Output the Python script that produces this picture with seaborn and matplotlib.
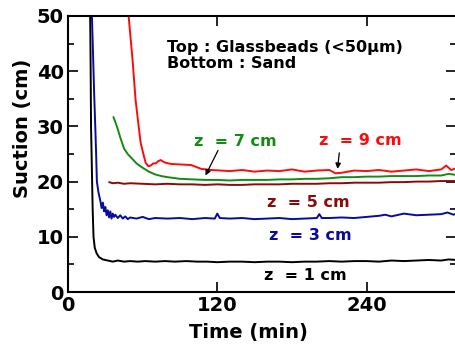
import matplotlib
matplotlib.use("Agg")
import matplotlib.pyplot as plt
import seaborn as sns
import numpy as np
import pandas as pd

# ---- data ----
t_z1 = [17.8, 18.2, 18.5, 19.2, 19.8, 20.5, 21.5, 23, 25, 28, 32, 36, 40, 45, 50, 56, 62, 70, 78, 86, 95, 104, 112, 120,
        130, 140, 150, 160, 170, 180, 190, 200, 210, 220, 230, 240, 250, 260, 270, 280, 290, 300, 306, 312]
s_z1 = [50, 40, 30, 22, 15, 10, 8, 7, 6.3, 5.9, 5.7, 5.5, 5.7, 5.5, 5.6, 5.5, 5.6, 5.5, 5.6, 5.5, 5.6, 5.5, 5.5, 5.4,
        5.5, 5.5, 5.4, 5.5, 5.5, 5.4, 5.5, 5.5, 5.6, 5.5, 5.6, 5.6, 5.5, 5.7, 5.6, 5.7, 5.8, 5.7, 5.9, 5.8]

t_z3 = [19.2, 20, 21, 21.9, 22.6, 23.2, 24.5, 26, 27, 28, 29, 30, 31, 32, 33, 34, 35, 36, 37, 38, 40, 42, 44, 46, 48,
        50, 55, 60, 65, 70, 80, 90, 100, 110, 118, 120, 122, 130, 140, 150, 160, 170, 180, 190, 200, 202, 204, 210, 220,
        230, 240, 250, 255, 260, 270, 280, 290, 300, 305, 310, 312]
s_z3 = [50, 44, 36, 30, 25, 20, 18, 16.5, 15.2, 16.2, 14.6, 15.4, 13.9, 14.8, 13.5, 14.6, 13.3, 14.2, 13.6, 14.0, 13.4,
        13.9, 13.3, 13.7, 13.2, 13.5, 13.3, 13.6, 13.2, 13.4, 13.3, 13.4, 13.2, 13.4, 13.3, 14.2, 13.4, 13.3, 13.4,
        13.2, 13.3, 13.4, 13.2, 13.3, 13.4, 14.1, 13.4, 13.4, 13.5, 13.4, 13.6, 13.8, 14.0, 13.7, 14.2, 13.9, 14.0,
        14.1, 14.4, 14.0, 14.2]

t_z5 = [33, 36, 40, 45, 50, 60, 70, 80, 90, 100, 110, 120, 130, 140, 150, 160, 170, 180, 190, 200, 210, 220, 230, 240,
        250, 260, 270, 280, 290, 300, 306, 312]
s_z5 = [19.9, 19.7, 19.8, 19.6, 19.7, 19.6, 19.5, 19.6, 19.5, 19.5, 19.4, 19.5, 19.4, 19.4, 19.5, 19.5, 19.5, 19.6,
        19.6, 19.6, 19.7, 19.7, 19.8, 19.8, 19.8, 19.9, 19.9, 20.0, 20.0, 20.1, 20.1, 20.1]

t_z7 = [36.5, 38, 40, 42, 45, 48, 50, 53, 55, 58, 60, 65, 70, 75, 80, 90, 100, 110, 120, 130, 140, 150, 160, 170, 180,
        190, 200, 210, 220, 230, 240, 250, 260, 270, 280, 290, 300, 306, 312]
s_z7 = [31.7, 30.8, 29.5, 28.0, 26.0, 25.0, 24.5, 23.8, 23.3, 22.8, 22.5, 21.8, 21.3, 21.0, 20.8, 20.5, 20.4, 20.3,
        20.3, 20.2, 20.3, 20.3, 20.3, 20.4, 20.4, 20.5, 20.5, 20.6, 20.8, 20.8, 20.9, 20.9, 21.0, 21.0, 21.0, 21.1,
        21.1, 21.4, 21.2]

t_z9 = [48.7, 51.9, 54.3, 56.8, 58.4, 60.8, 62.4, 64.5, 66.5, 68.5, 70.6, 72.5, 74.6, 76.5, 78.7, 82.7, 90, 99, 107,
        115, 123, 130, 140, 150, 160, 170, 180, 190, 200, 210, 215, 220, 230, 240, 250, 260, 270, 280, 290, 300, 304,
        308, 312]
s_z9 = [50, 42, 34.8, 30, 27, 24.8, 23.4, 22.8, 22.9, 23.3, 23.3, 23.7, 23.9, 23.6, 23.4, 23.2, 23.1, 23.0, 22.3,
        22.1, 22.0, 21.9, 22.1, 21.8, 22.0, 21.9, 22.2, 21.8, 22.0, 22.1, 21.5, 21.6, 22.0, 21.9, 22.1, 21.8, 22.0,
        22.2, 21.9, 22.2, 22.9, 22.1, 22.4]

series_labels = ["z  = 1 cm", "z  = 3 cm", "z  = 5 cm", "z  = 7 cm", "z  = 9 cm"]
series_colors = ["#000000", "#0a0a9e", "#8b0a0a", "#128c12", "#ff0a0a"]
x_ticks = [0, 120, 240]
y_ticks = [0, 10, 20, 30, 40, 50]

sns.set_style("ticks")
plt.rcParams['font.family'] = ['DejaVu Sans']
plt.rcParams['font.weight'] = 'bold'
plt.rcParams['text.color'] = 'black'
plt.rcParams['axes.labelcolor'] = 'black'
plt.rcParams['xtick.color'] = 'black'
plt.rcParams['ytick.color'] = 'black'

fig = plt.figure(figsize=(4.55, 3.47), dpi=100)
ax = fig.add_axes([0.1495, 0.1585, 0.853, 0.7955])

all_t = [t_z1, t_z3, t_z5, t_z7, t_z9]
all_s = [s_z1, s_z3, s_z5, s_z7, s_z9]
for t, s, c in zip(all_t, all_s, series_colors):
    sns.lineplot(x=t, y=s, color=c, lw=1.4, sort=False, estimator=None, ax=ax)

ax.set_xlim(0, 312)
ax.set_ylim(0, 50)
ax.set_xticks(x_ticks)
ax.set_yticks(y_ticks)
ax.set_yticks([5, 15, 25, 35, 45], minor=True)
ax.tick_params(which='both', direction='in', top=True, right=True, width=1.2, labelsize=14, pad=3,
               colors='black')
ax.tick_params(which='major', length=7)
ax.tick_params(which='minor', length=4)
for lab in ax.get_xticklabels() + ax.get_yticklabels():
    lab.set_fontweight('bold')
for sp in ax.spines.values():
    sp.set_linewidth(1.5)
    sp.set_color('black')

ax.set_xlabel("Time (min)", fontsize=14, fontweight='bold', color='black')
ax.set_ylabel("Suction (cm)", fontsize=14, fontweight='bold', color='black')
ax.xaxis.set_label_coords(0.464, -0.112)
ax.yaxis.set_label_coords(-0.093, 0.594)

# series labels
lab_pos = [(190.8, 2.9), (194.6, 10.3), (193.0, 16.25), (134.6, 27.2), (235.2, 27.5)]
for (x, y), txt, c in zip(lab_pos, series_labels, series_colors):
    ax.text(x, y, txt, color=c, fontsize=11.5, fontweight='bold', ha='center', va='center')

ax.annotate("", xy=(109.5, 20.65), xytext=(121.6, 26.1),
            arrowprops=dict(arrowstyle='-|>', color='black', lw=0.9, mutation_scale=8))
ax.annotate("", xy=(216.4, 21.8), xytext=(218.3, 25.7),
            arrowprops=dict(arrowstyle='-|>', color='black', lw=0.9, mutation_scale=8))

ax.text(79.9, 42.8, "Top : Glassbeads (<50μm)\nBottom : Sand", fontsize=11.5, fontweight='bold',
        ha='left', va='center', linespacing=1.1, color='black')

fig.savefig("out.png", dpi=100)
